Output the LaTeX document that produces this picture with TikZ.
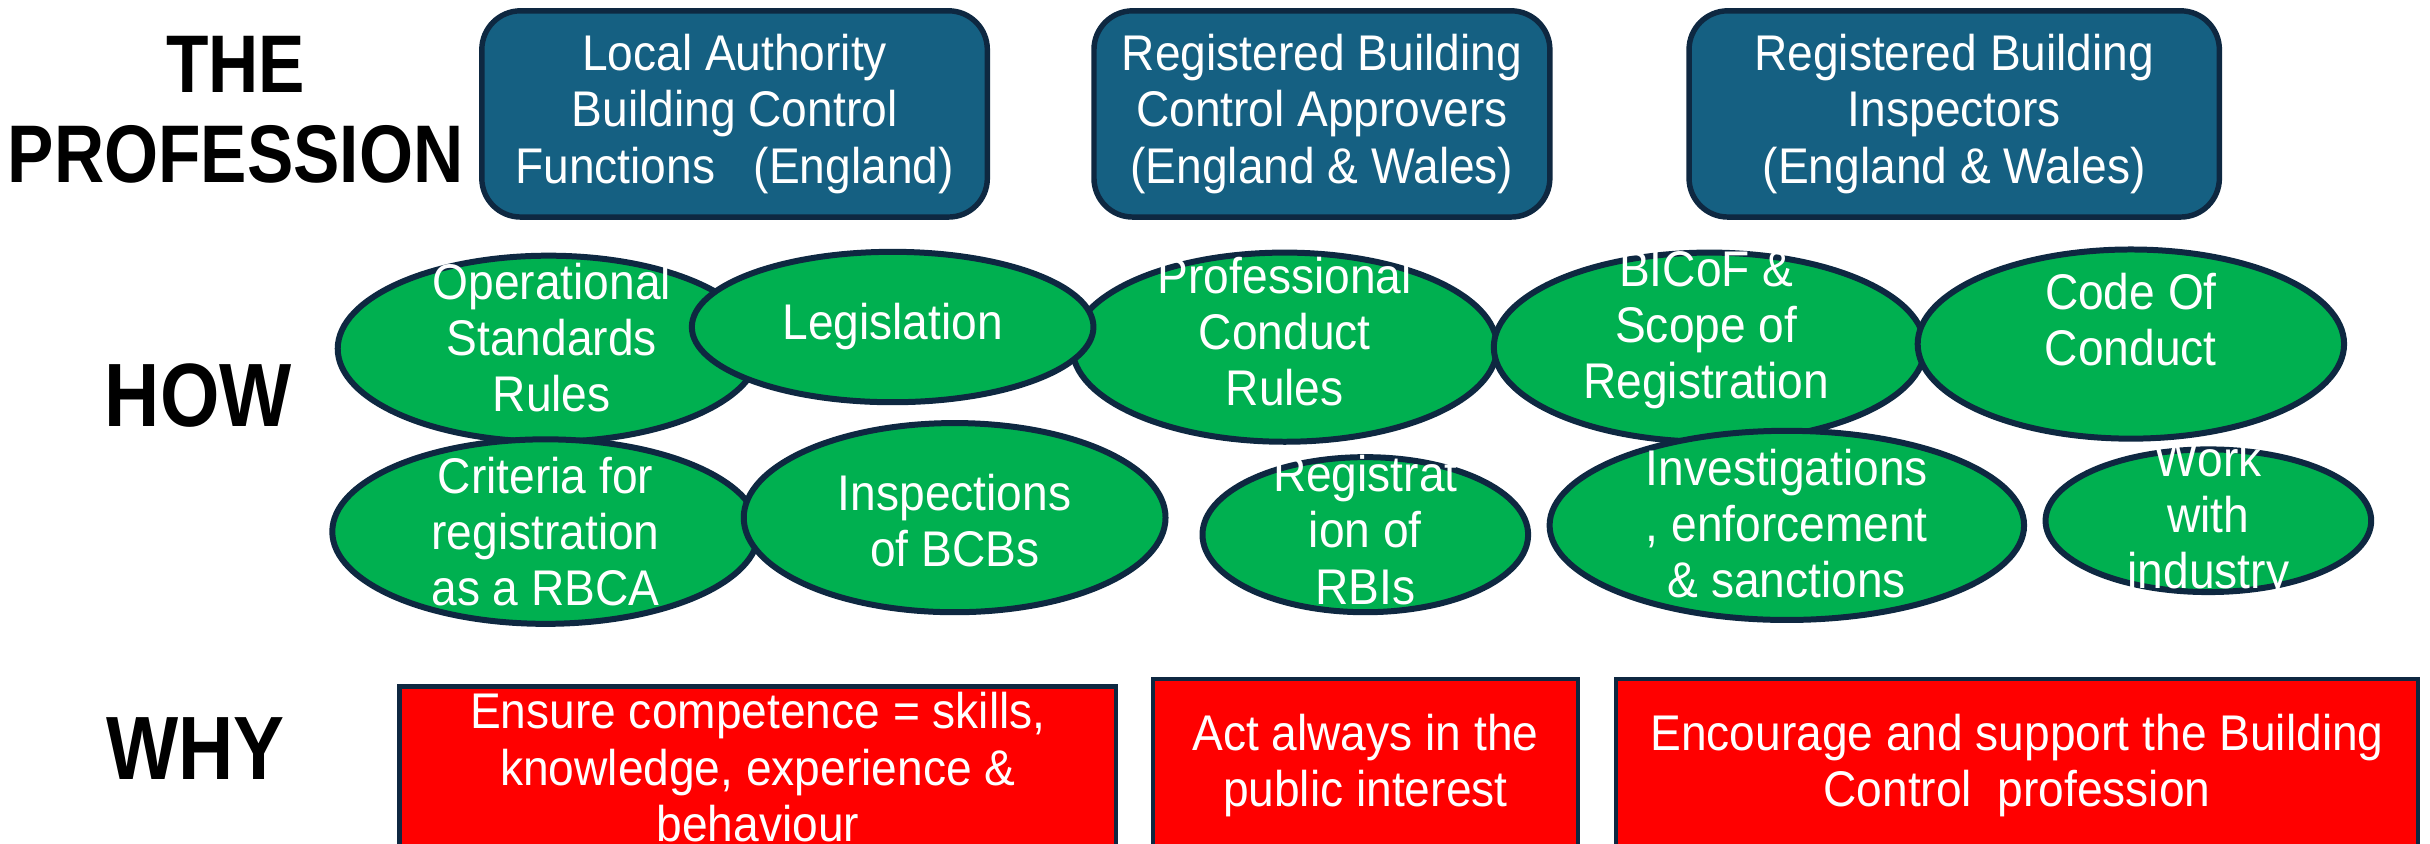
\documentclass[tikz,border=0pt]{standalone}
\usepackage{fontspec}
\setmainfont[FakeStretch=0.92]{Liberation Sans}
\newfontfamily\headfont[FakeStretch=0.85]{Liberation Sans}
\usetikzlibrary{shapes.geometric}
\definecolor{bcteal}{HTML}{156082}
\definecolor{bcnavy}{HTML}{0E2841}
\definecolor{bcgreen}{HTML}{00B050}
\definecolor{bcred}{HTML}{FF0000}
\tikzset{
  heading/.style={font=\headfont\bfseries\fontsize{15}{16.5}\selectfont, align=center, inner sep=0pt},
  bodytext/.style={text=white, font=\fontsize{9.2}{10.3}\selectfont, align=center, inner sep=0pt},
  whobox/.style 2 args={draw=bcnavy, line width=1pt, fill=bcteal, rounded corners=0.25cm,
    minimum width=#1, minimum height=#2, bodytext},
  oval/.style 2 args={ellipse, draw=bcnavy, line width=1.1pt, fill=bcgreen,
    minimum width=#1, minimum height=#2, inner sep=0pt},
  whybox/.style 2 args={draw=bcnavy, line width=0.8pt, fill=bcred,
    minimum width=#1, minimum height=#2, bodytext}
}
\begin{document}
\begin{tikzpicture}[x=0.01cm, y=-0.01cm]
        \clip (0,0) rectangle (1568,544);
        \fill[white] (0,0) rectangle (1568,544);
        % row headings
        \node[heading] (prof) at (152,71) {THE\\PROFESSION};
        \node[heading, font=\headfont\bfseries\fontsize{16.5}{18}\selectfont] (how) at (128,255) {HOW};
        \node[heading, font=\headfont\bfseries\fontsize{16.5}{18}\selectfont] (why) at (126,483) {WHY};
        % who: the three parts of the profession
        \node[whobox={3.26cm}{1.33cm}] (lab) at (474,73.5) {Local Authority\\Building Control\\Functions~~~(England)};
        \node[whobox={2.94cm}{1.33cm}] (rbca) at (853,73.5) {Registered Building\\Control Approvers\\(England \& Wales)};
        \node[whobox={3.42cm}{1.33cm}] (rbi) at (1261,73.5) {Registered Building\\Inspectors\\(England \& Wales)};
        % how: the ovals, drawn back to front
        \foreach \n/\x/\y/\w/\h in {ops/354/225/2.72/1.20, pcr/829/224/2.74/1.22, leg/576/211/2.59/0.97,
            bic/1103/224/2.78/1.22, coc/1375/222/2.75/1.22, crit/352/343/2.75/1.19, insp/616/334/2.72/1.22,
            reg/881/345/2.10/1.00, inv/1153/339/3.06/1.22, wwi/1425/336/2.10/0.92}
        \node[oval={\w cm}{\h cm}] (\n) at (\x,\y) {};
        \node[bodytext] (ops-t) at (356,218) {Operational\\Standards\\Rules};
        \node[bodytext] (leg-t) at (576,211) {Legislation};
        \node[bodytext] (pcr-t) at (829,214) {Professional\\Conduct\\Rules};
        \node[bodytext] (bic-t) at (1101,213) {BICoF \&\\Scope of\\Registration};
        \node[bodytext] (coc-t) at (1375,206) {Code Of\\Conduct};
        \node[bodytext] (crit-t) at (352,343) {Criteria for\\registration\\as a RBCA};
        \node[bodytext] (insp-t) at (616,336) {Inspections\\of BCBs};
        \node[bodytext] (reg-t) at (881,342) {Registrat\\ion of\\RBIs};
        \node[bodytext] (inv-t) at (1153,338) {Investigations\\, enforcement\\\& sanctions};
        \node[bodytext] (wwi-t) at (1425,335) {Work\\with\\industry};
        % why
        \node[whybox={4.62cm}{1.04cm}] (comp) at (489,495) {Ensure competence = skills,\\knowledge, experience \&\\behaviour};
        \node[whybox={2.74cm}{1.12cm}] (pub) at (881,494) {Act always in the\\public interest};
        \node[whybox={5.17cm}{1.12cm}] (supp) at (1301.5,494) {Encourage and support the Building\\Control~~profession};
\end{tikzpicture}
\end{document}
